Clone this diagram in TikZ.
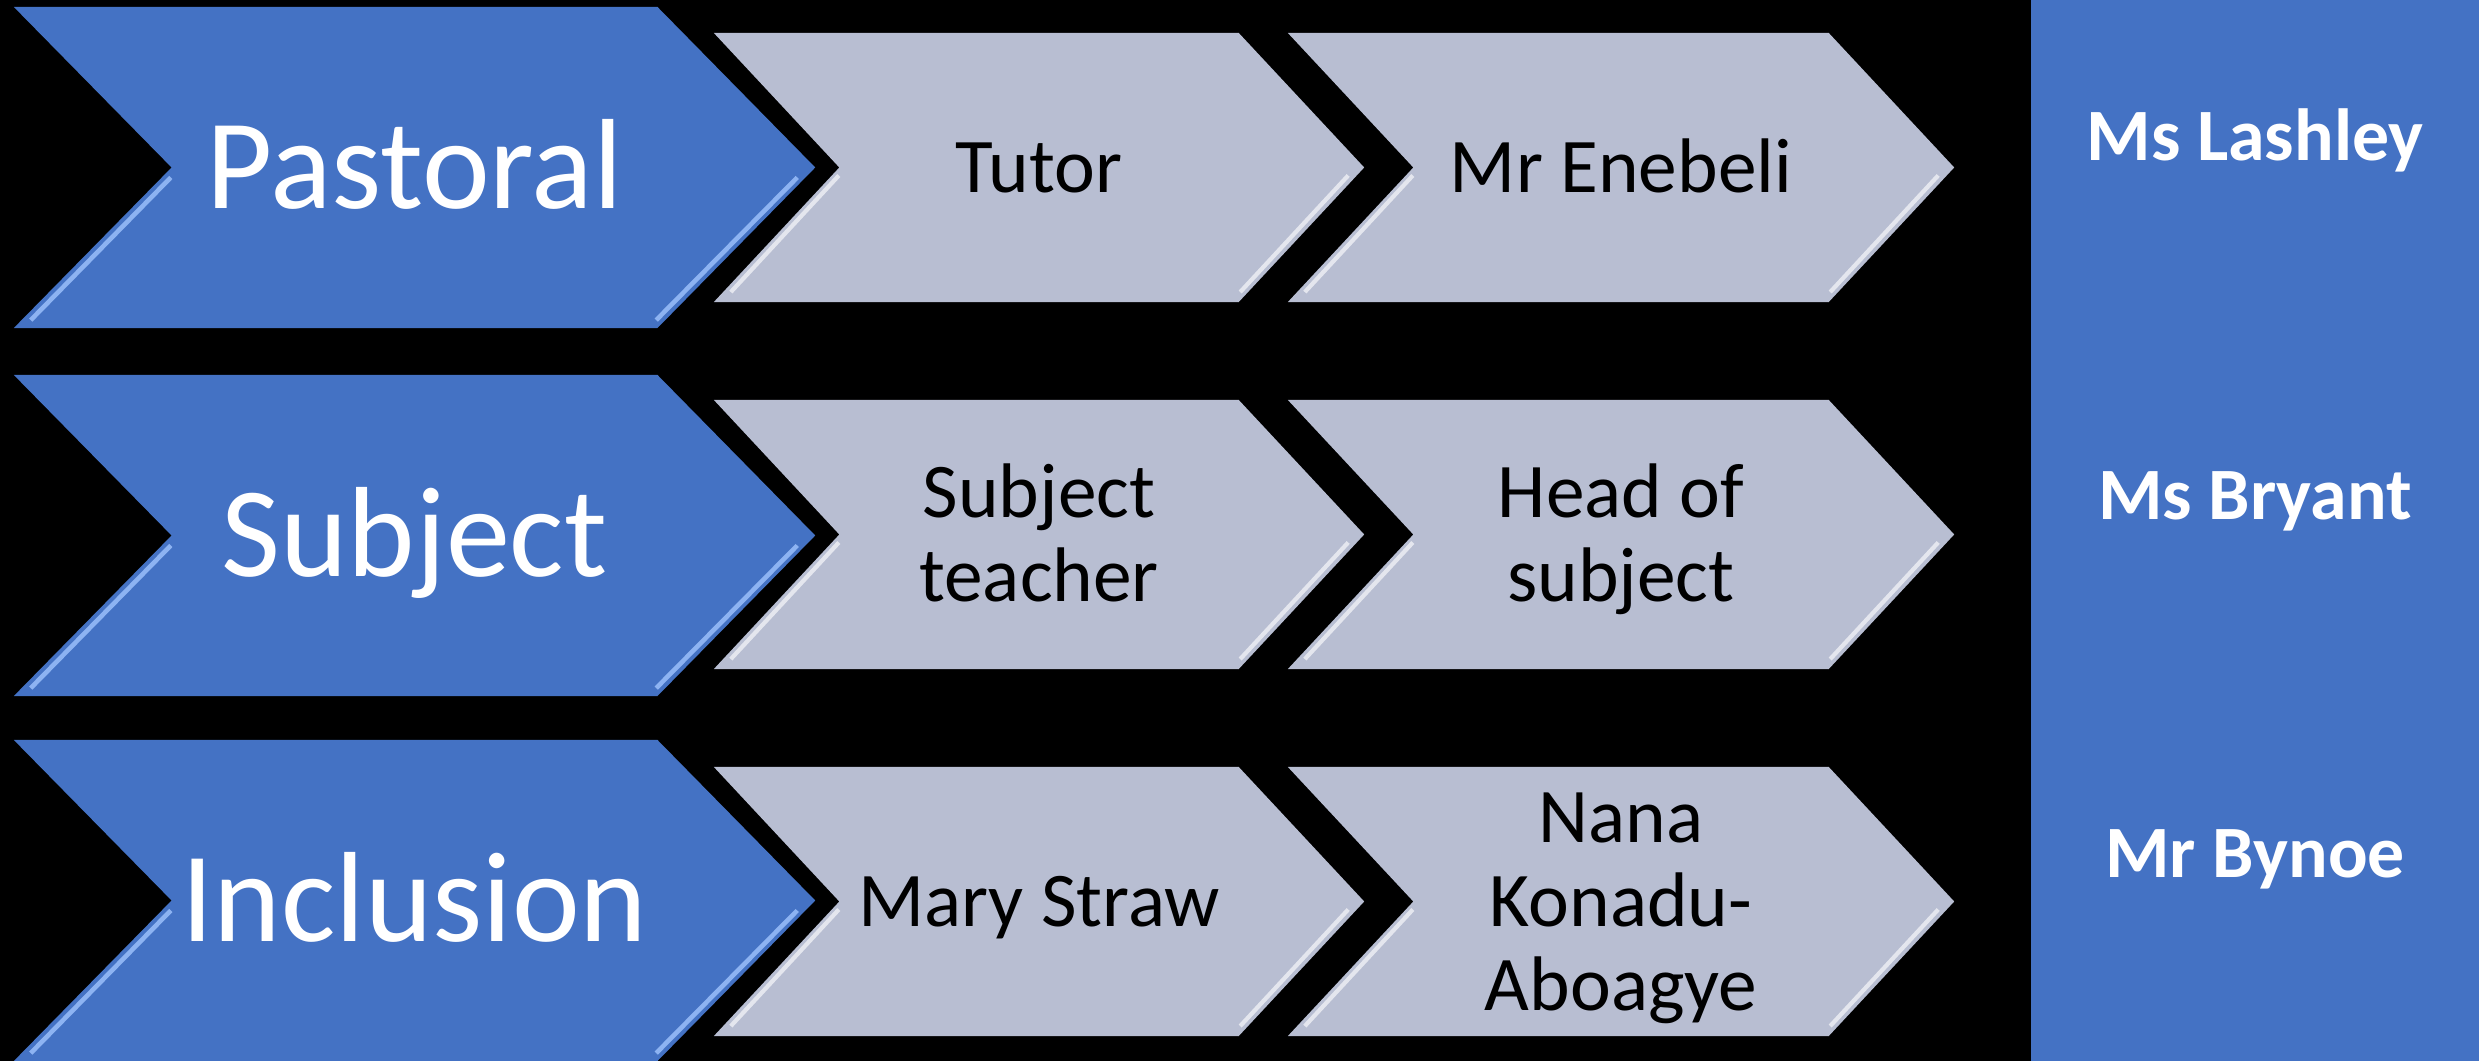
\documentclass[tikz,border=0pt]{standalone}
\usepackage{fontspec}
\setmainfont{Carlito}
\usetikzlibrary{shapes.symbols,calc}
\definecolor{chevblue}{HTML}{4472C4}
\definecolor{chevgray}{HTML}{B8BED2}
\definecolor{bluehi}{HTML}{8DB3F2}
\definecolor{grayhi}{HTML}{E4E6EE}

\begin{document}
\begin{tikzpicture}[x=0.01cm,y=0.01cm]
\useasboundingbox (0,0) rectangle (2479,1061);
\fill[black] (0,0) rectangle (2479,1061);
\fill[chevblue] (2031,0) rectangle (2479,1061);
\begin{scope}[every node/.style={signal,signal to=east,signal from=west,
      fill=chevblue,inner sep=0pt,minimum width=8.01cm,minimum height=3.21cm,
      signal pointer angle=91,text=white,
      font=\fontsize{36.5}{42}\selectfont,text height=23.5pt,text depth=0pt,
      path picture={
        \draw[bluehi,line width=1.3pt]
          ($(path picture bounding box.west)+(157,-10)$) --
          ($(path picture bounding box.south west)+(17,8)$);
        \draw[bluehi,line width=1.3pt]
          ($(path picture bounding box.east)+(-18,-10)$) --
          ($(path picture bounding box.south east)+(-159,8)$);}}]
    \node (past) at (414.5,893.5) {Pastoral};
    \node (subj) at (414.5,525.5) {Subject};
    \node (incl) at (414.5,160.5) {Inclusion};
\end{scope}
% text height grows with the number of lines (baselineskip 24pt)
\begin{scope}[every node/.style={signal,signal to=east,signal from=west,
      fill=chevgray,inner sep=0pt,minimum height=2.69cm,
      signal pointer angle=94,text=black,align=center,
      font=\fontsize{22}{24}\selectfont,text height=14.2pt,text depth=0pt,
      path picture={
        \draw[grayhi,line width=1.2pt]
          ($(path picture bounding box.west)+(125,-8)$) --
          ($(path picture bounding box.south west)+(17,10)$);
        \draw[grayhi,line width=1.2pt]
          ($(path picture bounding box.east)+(-16,-8)$) --
          ($(path picture bounding box.south east)+(-124,10)$);}},
    twolines/.style={text height=38.2pt},
    threelines/.style={text height=62.2pt}]
    \node[minimum width=6.5cm] (tutor) at (1039,893.5) {Tutor};
    \node[minimum width=6.66cm] (enebeli) at (1621,893.5) {Mr Enebeli};
    \node[minimum width=6.5cm,twolines] (teacher) at (1039,526.5) {Subject\\teacher};
    \node[minimum width=6.66cm,twolines] (head) at (1621,526.5) {Head of\\subject};
    \node[minimum width=6.5cm] (straw) at (1039,159.5) {Mary Straw};
    \node[minimum width=6.66cm,threelines] (konadu) at (1621,159.5) {Nana\\Konadu-\\Aboagye};
\end{scope}
\begin{scope}[every node/.style={anchor=base,text=white,
      font=\fontsize{21}{25}\selectfont\bfseries}]
    \node (lashley) at (2255,900) {Ms Lashley};
    \node (bryant) at (2255,541) {Ms Bryant};
    \node (bynoe) at (2255,183) {Mr Bynoe};
\end{scope}
\end{tikzpicture}
\end{document}
